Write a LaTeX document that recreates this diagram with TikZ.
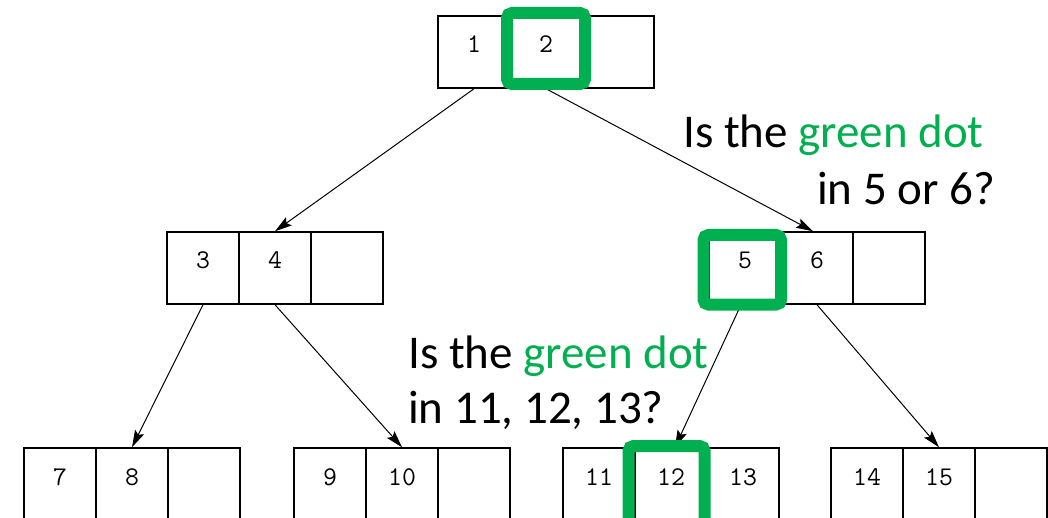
\documentclass[tikz,border=0pt]{standalone}
\usepackage{fontspec}
\newfontfamily\qfont{Carlito}
\usetikzlibrary{arrows.meta}
\definecolor{hilite}{HTML}{00B050}
\begin{document}
\begin{tikzpicture}[x=1pt,y=-1pt,
  cell/.style={draw, line width=1.5pt, minimum size=72pt, inner sep=0pt,
    text height=37pt, text depth=35pt, font=\ttfamily\fontsize{27}{27}\selectfont},
  link/.style={line width=1pt, -{Stealth[length=17pt,width=10pt,inset=3pt]}},
  hl/.style={draw=hilite, line width=12pt, rounded corners=5pt},
  q/.style={anchor=base west, inner sep=0pt, font=\qfont\fontsize{47}{56}\selectfont}]
\useasboundingbox (0,0) rectangle (1048,518);
\clip (0,0) rectangle (1048,518);

% root
\node[cell] (r1) at (474,52) {1};
\node[cell] (r2) at (546,52) {2};
\node[cell] (r3) at (618,52) {};
% second level
\node[cell] (a1) at (203,268) {3};
\node[cell] (a2) at (275,268) {4};
\node[cell] (a3) at (347,268) {};
\node[cell] (b1) at (745,268) {5};
\node[cell] (b2) at (817,268) {6};
\node[cell] (b3) at (889,268) {};
% leaves
\node[cell] (c1) at (60,484) {7};
\node[cell] (c2) at (132,484) {8};
\node[cell] (c3) at (204,484) {};
\node[cell] (d1) at (330,484) {9};
\node[cell] (d2) at (402,484) {10};
\node[cell] (d3) at (474,484) {};
\node[cell] (e1) at (599,484) {11};
\node[cell] (e2) at (671,484) {12};
\node[cell] (e3) at (743,484) {13};
\node[cell] (f1) at (867,484) {14};
\node[cell] (f2) at (939,484) {15};
\node[cell] (f3) at (1011,484) {};

% child pointers
\draw[link] (r1.south) -- (a2.north);
\draw[link] (r2.south) -- ([xshift=-4pt]b2.north);
\draw[link] (a1.south) -- (c2.north);
\draw[link] (a2.south) -- (d2.north);
\draw[link] ([xshift=-4pt]b1.south) -- ([xshift=4pt]e2.north);
\draw[link] (b2.south) -- (f2.north);

% search path
\draw[hl] (507,13) rectangle (585,84);
\draw[hl] (703.5,235) rectangle (781,304.5);
\draw[hl] (628.5,446) rectangle (704.5,540);

% questions
\node[q] (q1a) at (683,148) {Is the \textcolor{hilite}{green dot}};
\node[q] (q1b) at (817,205) {in 5 or 6?};
\node[q] (q2a) at (408,368) {Is the \textcolor{hilite}{green dot}};
\node[q] (q2b) at (408,423) {in 11, 12, 13?};
\end{tikzpicture}
\end{document}
